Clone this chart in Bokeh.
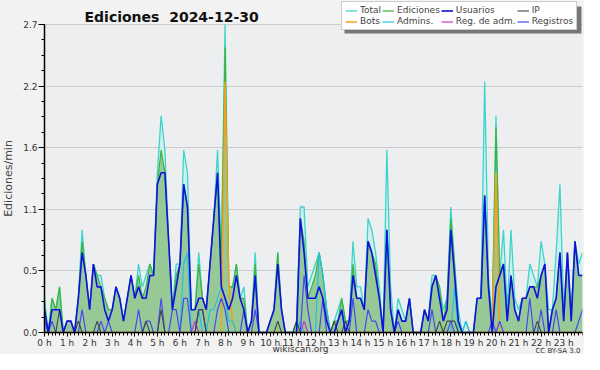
import numpy as np
from bokeh.plotting import figure
from bokeh.models import Range1d, FixedTicker, Legend, LegendItem, Label, BoxAnnotation
from bokeh.embed import file_html
from bokeh.resources import INLINE

# ---- data: 144 ten-minute slots, edits per minute ----
total = [0.3,0.0,0.3,0.2,0.4,0.0,0.1,0.1,0.0,0.3,0.9,0.5,
         0.2,0.6,0.5,0.5,0.3,0.2,0.2,0.4,0.3,0.1,0.3,0.5,
         0.3,0.6,0.4,0.5,0.6,0.5,1.4,1.9,1.6,0.8,0.2,0.6,
         0.6,1.6,1.4,0.2,0.2,0.7,0.3,0.2,0.6,1.0,1.6,0.7,
         2.7,0.4,0.4,0.6,0.3,0.4,0.0,0.1,0.7,0.0,0.0,0.0,
         0.1,0.2,0.7,0.2,0.0,0.0,0.0,0.1,1.1,1.1,0.4,0.5,
         0.6,0.7,0.5,0.2,0.0,0.1,0.2,0.3,0.1,0.1,0.8,0.4,
         0.4,0.2,1.0,0.9,0.7,0.4,0.0,1.6,0.4,0.0,0.3,0.2,
         0.1,0.3,0.0,0.0,0.0,0.2,0.1,0.5,0.5,0.4,0.2,0.3,
         1.1,0.6,0.2,0.0,0.1,0.0,0.0,0.3,0.3,2.2,0.5,0.1,
         1.9,0.5,0.9,0.2,0.9,0.3,0.2,0.3,0.3,0.6,0.5,0.4,
         0.8,0.6,0.2,0.2,0.7,1.3,0.2,0.7,0.2,0.8,0.6,0.7]
edits = [0.2,0.0,0.3,0.2,0.4,0.0,0.1,0.1,0.0,0.3,0.8,0.5,
         0.2,0.6,0.5,0.4,0.3,0.2,0.2,0.4,0.3,0.1,0.3,0.5,
         0.3,0.5,0.3,0.4,0.6,0.5,1.3,1.6,1.4,0.8,0.2,0.5,
         0.6,1.3,1.1,0.2,0.2,0.6,0.3,0.2,0.6,1.0,1.4,0.6,
         2.5,0.4,0.4,0.6,0.3,0.3,0.0,0.1,0.6,0.0,0.0,0.0,
         0.1,0.2,0.7,0.2,0.0,0.0,0.0,0.1,1.0,0.8,0.3,0.4,
         0.5,0.7,0.5,0.2,0.0,0.1,0.1,0.3,0.1,0.1,0.6,0.3,
         0.3,0.2,0.8,0.7,0.6,0.3,0.0,0.9,0.2,0.0,0.2,0.1,
         0.1,0.3,0.0,0.0,0.0,0.2,0.1,0.4,0.5,0.4,0.1,0.3,
         1.0,0.6,0.1,0.0,0.0,0.0,0.0,0.3,0.3,1.2,0.4,0.1,
         1.8,0.5,0.6,0.1,0.5,0.2,0.1,0.3,0.3,0.4,0.4,0.4,
         0.5,0.6,0.0,0.2,0.3,0.7,0.1,0.7,0.1,0.8,0.5,0.5]
users = [0.2,0.0,0.2,0.2,0.2,0.0,0.1,0.1,0.0,0.3,0.7,0.5,
         0.2,0.6,0.4,0.4,0.2,0.1,0.2,0.4,0.3,0.1,0.3,0.5,
         0.3,0.4,0.3,0.3,0.5,0.5,1.3,1.4,1.4,0.8,0.2,0.4,
         0.6,1.3,1.1,0.2,0.2,0.3,0.3,0.2,0.6,1.0,1.4,0.4,
         0.3,0.2,0.3,0.5,0.3,0.2,0.0,0.1,0.5,0.0,0.0,0.0,
         0.1,0.2,0.6,0.2,0.0,0.0,0.0,0.0,1.0,0.7,0.3,0.3,
         0.3,0.4,0.3,0.1,0.0,0.0,0.1,0.2,0.0,0.1,0.5,0.3,
         0.3,0.2,0.8,0.7,0.5,0.3,0.0,0.9,0.2,0.0,0.2,0.1,
         0.1,0.3,0.0,0.0,0.0,0.2,0.1,0.4,0.5,0.3,0.1,0.2,
         0.9,0.5,0.1,0.0,0.0,0.0,0.0,0.3,0.3,1.2,0.4,0.0,
         0.4,0.5,0.6,0.1,0.5,0.2,0.1,0.3,0.3,0.4,0.4,0.3,
         0.5,0.6,0.0,0.2,0.3,0.7,0.1,0.7,0.1,0.8,0.5,0.5]
ip = [0,0,0,0,0.2,0,0,0,0,0.1,0,0,
      0,0,0.1,0,0,0,0,0,0,0,0,0,
      0,0,0,0.1,0,0,0,0.2,0,0,0,0,
      0,0,0,0,0,0.2,0.2,0,0,0,0,0,
      0,0,0,0,0,0,0,0,0,0,0,0,
      0,0,0.1,0,0,0,0,0.1,0,0,0,0,
      0,0,0,0,0,0.1,0,0,0.1,0,0,0,
      0,0,0,0,0,0,0,0,0,0,0,0,
      0,0,0,0,0,0,0,0,0,0.1,0,0.1,
      0.1,0.1,0,0,0,0,0,0,0,0,0,0,
      0,0,0,0,0,0,0,0,0,0,0,0.1,
      0,0,0,0,0,0,0,0,0,0,0,0]
bots = [0,0,0,0,0,0,0,0,0,0,0,0,
        0,0,0,0,0,0,0,0,0,0,0,0,
        0,0,0,0,0,0,0,0,0,0,0,0,
        0,0,0,0,0,0,0,0,0,0,0,0,
        2.2,0.4,0.1,0,0,0,0,0,0,0,0,0,
        0,0,0,0,0,0,0,0,0,0,0,0,
        0,0,0,0,0,0,0,0,0,0,0,0,
        0,0,0,0,0,0,0,0,0,0,0,0,
        0,0,0,0,0,0,0,0,0,0,0,0,
        0,0,0,0,0,0,0,0,0,0,0,0,
        1.4,0,0,0,0,0,0,0,0,0,0,0,
        0,0,0,0,0,0,0,0,0,0,0,0]
admins = [0,0,0,0,0,0,0,0,0,0,0,0,
          0,0,0,0,0,0,0,0,0,0,0,0,
          0,0,0,0,0,0,0,0,0,0,0,0,
          0,0.6,0.7,0,0,0.2,0,0,0.2,0.2,0.3,0.4,
          0.3,0.1,0.1,0,0,0,0,0,0,0,0,0,
          0,0,0,0,0,0,0,0,0.1,0,0,0,
          0,0.7,0.5,0.2,0,0,0.1,0.2,0,0,0,0,
          0,0,0,0,0,0,0,0,0,0,0,0,
          0,0,0,0,0,0,0,0,0,0,0,0,
          0,0.4,0,0,0.1,0,0,0,0,0,0,0,
          0,0,0,0,0,0,0,0,0,0,0,0,
          0,0,0,0,0,0,0,0,0,0,0,0]
reg_adm = [0,0,0,0,0,0,0,0,0,0,0,0,
           0,0,0,0,0,0,0,0,0,0,0,0,
           0,0,0,0,0,0,0,0,0,0,0,0,
           0,0,0,0,0.1,0,0,0,0,0,0,0,
           0,0,0,0,0,0,0,0,0,0,0,0,
           0,0,0,0,0,0,0,0,0,0.1,0,0,
           0,0,0,0,0,0,0,0,0,0,0,0,
           0,0,0,0,0,0,0,0,0,0,0,0,
           0,0,0,0,0,0,0,0,0,0,0,0,
           0,0,0,0,0,0,0,0,0,0,0,0,
           0,0,0,0,0,0,0,0,0,0,0,0,
           0,0,0,0,0,0,0,0,0,0,0,0]
registros = [0.1,0,0.1,0,0,0,0,0,0,0,0.2,0,
             0,0,0,0.1,0,0.1,0,0,0,0,0,0,
             0,0.2,0,0.1,0.1,0,0,0.3,0,0,0.2,0.2,
             0,0.3,0.3,0,0,0.2,0.2,0,0,0,0.2,0.3,
             0.2,0,0,0,0,0.2,0,0,0.2,0,0,0,
             0,0,0,0,0,0,0,0,0,0.5,0.2,0,
             0,0,0.3,0,0,0,0,0,0,0,0.3,0,
             0,0,0.2,0.1,0.1,0,0,0,0,0,0.1,0,
             0,0,0,0,0,0,0,0.2,0,0,0,0,
             0.1,0,0,0,0,0,0,0,0,0,0,0.1,
             0,0.1,0,0,0,0,0,0,0,0.3,0,0,
             0.2,0,0,0,0.2,0,0,0,0,0,0.1,0.2]

x_hours = np.arange(len(total)) / 6.0          # slot start, in hours
hour_ticks = list(range(24))
hour_labels = [f"{h} h" for h in hour_ticks]
y_ticks = [0, 0.54, 1.08, 1.62, 2.16, 2.7]
y_labels = ["0.0", "0.5", "1.1", "1.6", "2.2", "2.7"]
y_max = y_ticks[-1]
x_max = x_hours[-1]

FONT = "DejaVu Sans"
W, H = 584, 354
RIGHT = 2
LEFT_PAD = 44     # px left of the 0 h line (y ticks, y label)
TOP_PAD = 24      # px above the 2.7 line (title/legend area)
BOT_PAD = 22      # px below the 0 line (tick labels, credits)
ppu_y = (H - TOP_PAD - BOT_PAD) / y_max
ppu_x = (W - RIGHT - LEFT_PAD) / x_max
x_lo = -LEFT_PAD / ppu_x
y_hi = y_max + TOP_PAD / ppu_y

def px_x(px):          # canvas px -> x data (for decoration only)
    return x_lo + px / ppu_x

def px_y(py):          # canvas px from top -> y data (for decoration only)
    return y_hi - py / ppu_y

p = figure(width=W, height=H, output_backend="svg", toolbar_location=None,
           x_range=Range1d(x_lo, x_max),
           y_range=Range1d(-BOT_PAD / ppu_y, y_hi),
           min_border_left=0, min_border_right=RIGHT, min_border_top=0, min_border_bottom=0)
p.title.visible = False
p.background_fill_color = "#edeef0"
p.border_fill_color = "#f2f2f2"
p.outline_line_color = None

# out-of-plot bands share the page colour
p.add_layout(BoxAnnotation(bottom=y_max, fill_color="#f2f2f2", fill_alpha=1,
                           line_color=None, level="image"))
p.add_layout(BoxAnnotation(top=0, fill_color="#f2f2f2", fill_alpha=1,
                           line_color=None, level="image"))
p.add_layout(BoxAnnotation(right=0, fill_color="#f2f2f2", fill_alpha=1,
                           line_color=None, level="glyph"))

# areas
p.varea(x_hours, y1=0, y2=total, fill_color="#cfefee")
p.varea(x_hours, y1=0, y2=edits, fill_color="#96c996")

r_total = p.line(x_hours, total, line_color="#3cd4cc", line_width=1.3)
r_edits = p.line(x_hours, edits, line_color="#3cb43c", line_width=1.2)
r_bots = p.line(x_hours, bots, line_color="#f5a020", line_width=1.5)
r_admins = p.line(x_hours, admins, line_color="#22c2e0", line_width=1.2)
r_regadm = p.line(x_hours, reg_adm, line_color="#cc33dd", line_width=1.2)
r_reg = p.line(x_hours, registros, line_color="#4848f0", line_width=1.2)
r_ip = p.line(x_hours, ip, line_color="#444444", line_width=1.1)
r_users = p.line(x_hours, users, line_color="#1010e0", line_width=1.6)

# axes
p.xgrid.visible = False
p.ygrid.grid_line_color = "#cccccc"
p.ygrid.ticker = FixedTicker(ticks=y_ticks)

p.yaxis.fixed_location = 0
p.yaxis.ticker = FixedTicker(ticks=y_ticks,
                             minor_ticks=[i * 0.135 for i in range(21)])
p.yaxis.bounds = (0, y_max)
p.yaxis.major_label_overrides = dict(zip(y_ticks, y_labels))
p.yaxis.axis_label = "Ediciones/min"
p.yaxis.axis_label_text_font = FONT
p.yaxis.axis_label_text_font_size = "11px"
p.yaxis.axis_label_text_font_style = "normal"
p.yaxis.axis_label_standoff = 5
p.yaxis.major_tick_out = 6
p.yaxis.major_tick_in = 0
p.yaxis.minor_tick_out = 3
p.yaxis.minor_tick_in = 0
p.yaxis.major_label_standoff = 1

p.xaxis.fixed_location = 0
p.xaxis.bounds = (0, x_max)
p.xaxis.ticker = FixedTicker(ticks=hour_ticks, minor_ticks=list(x_hours))
p.xaxis.major_label_overrides = dict(zip(hour_ticks, hour_labels))
p.xaxis.major_tick_out = 4
p.xaxis.major_tick_in = 0
p.xaxis.minor_tick_out = 3
p.xaxis.minor_tick_in = 0
p.xaxis.major_label_standoff = 1

for ax in (p.xaxis[0], p.yaxis[0]):
    ax.axis_line_color = "black"
    ax.axis_line_width = 1.5
    ax.major_tick_line_color = "black"
    ax.minor_tick_line_color = "black"
    ax.major_label_text_font = FONT
    ax.major_label_text_font_size = "9px"
    ax.major_label_text_color = "#333333"

# legend drop shadow (decoration), drawn before the legend box
LEG_L, LEG_T = 341, 3
p.add_layout(BoxAnnotation(left=px_x(LEG_L + 3), right=px_x(LEG_L + 240),
                           top=px_y(LEG_T + 3), bottom=px_y(LEG_T + 30),
                           fill_color="#777777", fill_alpha=1, line_color=None,
                           level="annotation"))

# legend is filled column by column: two rows, four columns
legend = Legend(items=[
    LegendItem(label="Total", renderers=[r_total]),
    LegendItem(label="Bots", renderers=[r_bots]),
    LegendItem(label="Ediciones", renderers=[r_edits]),
    LegendItem(label="Admins.", renderers=[r_admins]),
    LegendItem(label="Usuarios", renderers=[r_users]),
    LegendItem(label="Reg. de adm.", renderers=[r_regadm]),
    LegendItem(label="IP", renderers=[r_ip]),
    LegendItem(label="Registros", renderers=[r_reg]),
], location=(LEG_L, H - 30), ncols=4)
legend.label_text_font = FONT
legend.label_text_font_size = "9px"
legend.label_height = 9
legend.glyph_height = 9
legend.glyph_width = 12
legend.label_standoff = 3
legend.spacing = 1
legend.padding = 3
legend.margin = 0
legend.border_line_color = "#999999"
legend.background_fill_color = "white"
legend.background_fill_alpha = 1
p.add_layout(legend, "center")

p.add_layout(Label(x=LEFT_PAD + 40, y=H - 16, x_units="screen", y_units="screen",
                   text="Ediciones\u00a0 2024-12-30", text_align="left", text_baseline="middle",
                   text_font=FONT, text_font_size="14px", text_font_style="bold",
                   text_color="#111111"))
p.add_layout(Label(x=300, y=6, x_units="screen", y_units="screen", text="wikiscan.org",
                   text_align="center", text_baseline="middle", text_font=FONT,
                   text_font_size="9px", text_color="#333333"))
p.add_layout(Label(x=W - RIGHT - 2, y=4, x_units="screen", y_units="screen", text="CC BY-SA 3.0",
                   text_align="right", text_baseline="middle", text_font=FONT,
                   text_font_size="7px", text_color="#333333"))

open("out.html", "w").write(file_html(p, INLINE))
